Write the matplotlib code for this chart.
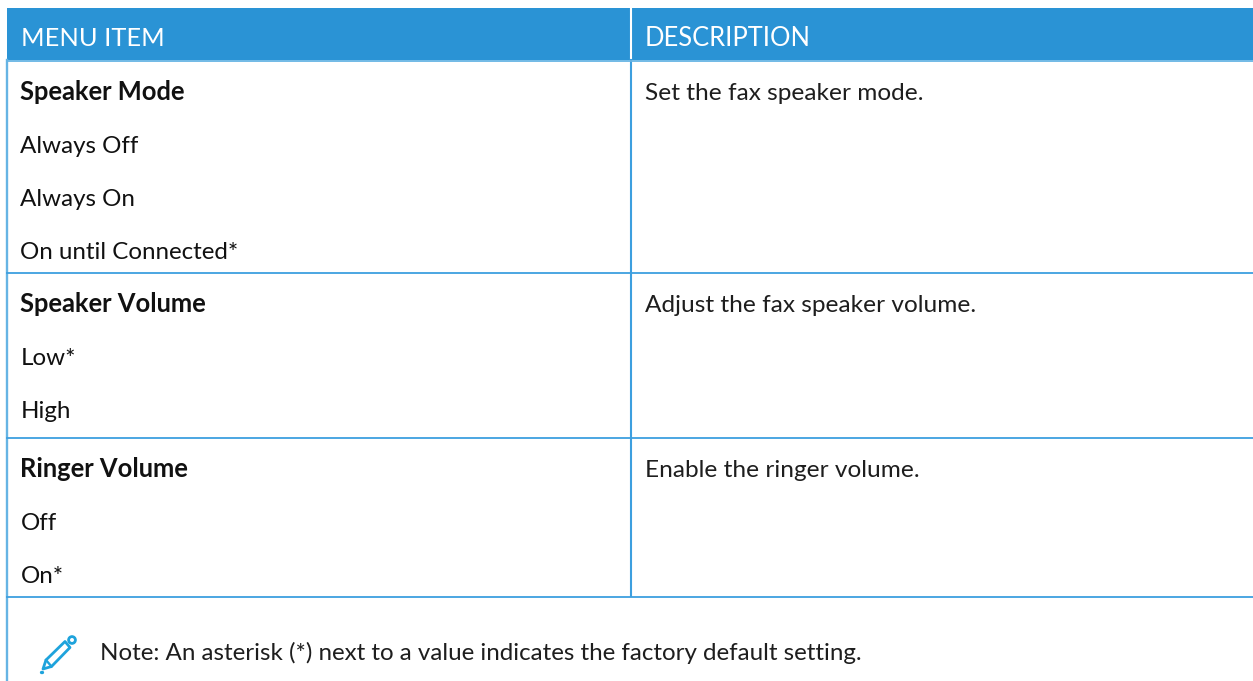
import matplotlib
matplotlib.use("Agg")
import matplotlib.pyplot as plt
from matplotlib.patches import Rectangle, Circle, Polygon

headers = ["MENU ITEM", "DESCRIPTION"]
left_lines = [("Speaker Mode", True, 100), ("Always Off", False, 153), ("Always On", False, 206),
              ("On until Connected*", False, 259), ("Speaker Volume", True, 312), ("Low*", False, 365),
              ("High", False, 418), ("Ringer Volume", True, 477), ("Off", False, 530), ("On*", False, 583)]
right_lines = [("Set the fax speaker mode.", 100), ("Adjust the fax speaker volume.", 312),
               ("Enable the ringer volume.", 477)]
note = "Note: An asterisk (*) next to a value indicates the factory default setting."
row_lines = [272.5, 437.5, 596.5]

BLUE = "#2a93d5"
EDGE = "#66b4e4"
LINE = "#3d9fdf"
ICON = "#1ea3dc"
plt.rcParams['font.family'] = ['Lato', 'DejaVu Sans']
fig = plt.figure(figsize=(12.53, 6.81), dpi=100)
ax = fig.add_axes([0, 0, 1, 1])
ax.set_xlim(0, 1253)
ax.set_ylim(681, 0)
ax.axis("off")

ax.add_patch(Rectangle((7, 8), 1246, 52, fc=BLUE, ec="none"))
ax.plot([631, 631], [8, 60], color="white", lw=1.5)
ax.plot([631, 631], [60, 596], color=LINE, lw=1.5)
ax.plot([7, 7], [60, 681], color=EDGE, lw=1.7)
ax.plot([7, 1253], [61, 61], color=EDGE, lw=1.3)
for y in row_lines:
    ax.plot([7, 1253], [y, y], color=LINE, lw=1.3)

ax.text(21, 46.5, headers[0], color="white", fontsize=18.3, va="baseline")
ax.text(645, 46.5, headers[1], color="white", fontsize=18.4, va="baseline")
for s, bold, y in left_lines:
    ax.text(20.5, y, s, color="#111111", fontsize=18.4 if bold else 17.4, va="baseline",
            fontweight="bold" if bold else "normal")
for s, y in right_lines:
    ax.text(645, y, s, color="#1e1e1e", fontsize=17.6, va="baseline")
ax.text(100, 660, note, color="#1e1e1e", fontsize=17.4, va="baseline")

# pencil icon
ax.add_patch(Polygon([(46, 660), (65, 641.5), (70, 647.5), (51.5, 666.5), (43, 669)], closed=True,
                     fc="none", ec=ICON, lw=2.0, joinstyle="round"))
ax.plot([46, 51.5], [660, 666.5], color=ICON, lw=1.7)
ax.add_patch(Circle((72, 640), 3.4, fc="none", ec=ICON, lw=2.0))
ax.plot([41, 41.5], [671.5, 671.5], color=ICON, lw=2.4, solid_capstyle="round")
fig.savefig("out.png", dpi=100)
